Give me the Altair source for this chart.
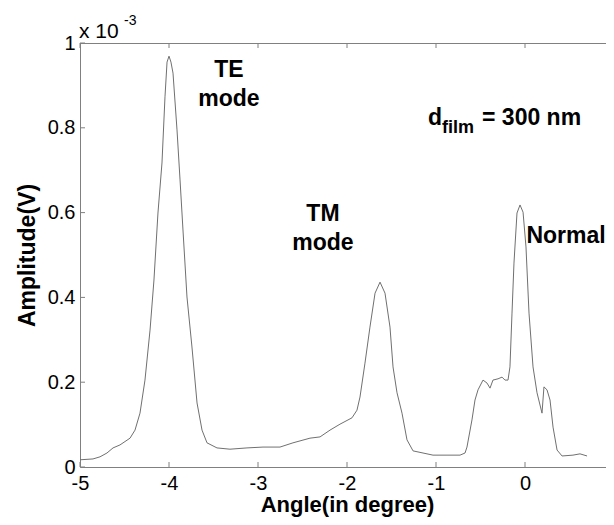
import altair as alt
import pandas as pd

# ---- data (amplitude in units of 1e-3 V) ----
angle = [-5.000, -4.854, -4.775, -4.697, -4.629, -4.551, -4.438, -4.382, -4.326, -4.270,
         -4.213, -4.169, -4.124, -4.079, -4.045, -4.022, -4.000, -3.978, -3.955, -3.910,
         -3.876, -3.843, -3.798, -3.742, -3.685, -3.629, -3.573, -3.461, -3.315, -3.124,
         -2.944, -2.753, -2.607, -2.416, -2.303, -2.191, -2.079, -1.944, -1.888, -1.854,
         -1.798, -1.742, -1.685, -1.629, -1.573, -1.517, -1.483, -1.438, -1.382, -1.326,
         -1.258, -1.146, -1.034, -0.876, -0.730, -0.674, -0.652, -0.596, -0.562, -0.528,
         -0.472, -0.427, -0.393, -0.360, -0.303, -0.258, -0.225, -0.191, -0.169, -0.146,
         -0.124, -0.090, -0.056, -0.022, 0.011, 0.045, 0.090, 0.135, 0.191, 0.213,
         0.247, 0.281, 0.315, 0.360, 0.416, 0.539, 0.618, 0.697]
amplitude = [0.017, 0.019, 0.024, 0.033, 0.045, 0.052, 0.068, 0.087, 0.127, 0.205,
             0.323, 0.441, 0.599, 0.717, 0.873, 0.955, 0.969, 0.955, 0.929, 0.795,
             0.677, 0.559, 0.401, 0.283, 0.151, 0.087, 0.057, 0.045, 0.042, 0.045,
             0.047, 0.047, 0.057, 0.068, 0.071, 0.087, 0.101, 0.116, 0.134, 0.165,
             0.245, 0.330, 0.410, 0.436, 0.410, 0.330, 0.236, 0.175, 0.127, 0.064,
             0.038, 0.033, 0.028, 0.028, 0.028, 0.033, 0.047, 0.111, 0.158, 0.182,
             0.205, 0.198, 0.186, 0.205, 0.208, 0.212, 0.205, 0.205, 0.236, 0.363,
             0.481, 0.599, 0.618, 0.601, 0.519, 0.363, 0.236, 0.175, 0.127, 0.189,
             0.182, 0.158, 0.094, 0.040, 0.026, 0.028, 0.031, 0.026]

x_ticks = [-5, -4, -3, -2, -1, 0]
y_ticks = [0, 0.2, 0.4, 0.6, 0.8, 1]

# annotations (in data coordinates)
big_labels = ["TE", "mode", "TM", "mode", "Normal"]
big_angle = [-3.326, -3.326, -2.270, -2.270, 0.461]
big_amp = [0.936, 0.868, 0.597, 0.528, 0.545]

# the reference's axis runs on to x = 1 just past the right edge of the picture;
# only the part up to the picture edge is shown here
X_MIN, X_VIS_MAX = -5, 0.91
W, H = 526, 424
FONT = "Liberation Sans"
GRAY = "#808080"

x_scale = alt.Scale(domain=[X_MIN, X_VIS_MAX], nice=False, zero=False)
y_scale = alt.Scale(domain=[0, 1], nice=False, zero=False)

x_axis = alt.Axis(values=x_ticks, title="Angle(in degree)", grid=False, domain=True,
                  domainColor=GRAY, domainWidth=1,
                  ticks=False, tickSize=0, labelPadding=6, labelFontSize=20,
                  labelFont=FONT, labelColor="black", labelExpr="datum.value + ''",
                  titleFont=FONT, titleFontSize=22, titleFontWeight="bold",
                  titleColor="black", titleBaseline="alphabetic", titleY=44,
                  titleX=267, labelFlush=False)
y_axis = alt.Axis(values=y_ticks, title="Amplitude(V)", grid=False, domain=True,
                  domainColor=GRAY, domainWidth=1,
                  ticks=False, tickSize=0, labelPadding=5, labelFontSize=20,
                  labelFont=FONT, labelColor="black", labelExpr="datum.value + ''",
                  titleFont=FONT, titleFontSize=23, titleFontWeight="bold",
                  titleColor="black", titlePadding=8, labelFlush=False)

x_enc = alt.X("angle:Q", scale=x_scale, axis=x_axis)
y_enc = alt.Y("amp:Q", scale=y_scale, axis=y_axis)

df = pd.DataFrame({"angle": angle, "amp": amplitude})

line = alt.Chart(df).mark_line(color="#707070", strokeWidth=1).encode(x=x_enc, y=y_enc)

xt = pd.DataFrame({"angle": x_ticks})
yt = pd.DataFrame({"amp": y_ticks})

top_frame = alt.Chart(pd.DataFrame({"k": [0]})).mark_rule(color=GRAY, strokeWidth=1).encode(
    x=alt.value(0), x2=alt.value(W), y=alt.value(0.5))
tick_bottom = alt.Chart(xt).mark_rule(color=GRAY).encode(x=x_enc, y=alt.value(H), y2=alt.value(H - 5))
tick_top = alt.Chart(xt).mark_rule(color=GRAY).encode(x=x_enc, y=alt.value(0), y2=alt.value(5))
tick_left = alt.Chart(yt).mark_rule(color=GRAY).encode(y=y_enc, x=alt.value(0), x2=alt.value(5))

ann_df = pd.DataFrame({"angle": big_angle, "amp": big_amp, "label": big_labels})
ann = alt.Chart(ann_df).mark_text(font=FONT, fontSize=23, fontWeight="bold", color="black",
                                  align="center", baseline="middle").encode(
    x=x_enc, y=y_enc, text="label:N")

d_df = pd.DataFrame({"angle": [-1.090], "amp": [0.807], "label": ["d"]})
d_txt = alt.Chart(d_df).mark_text(font=FONT, fontSize=23, fontWeight="bold", color="black",
                                  align="left", baseline="alphabetic").encode(
    x=x_enc, y=y_enc, text="label:N")
sub_df = pd.DataFrame({"angle": [-0.933], "amp": [0.788], "label": ["film"]})
sub_txt = alt.Chart(sub_df).mark_text(font=FONT, fontSize=18, fontWeight="bold", color="black",
                                      align="left", baseline="alphabetic").encode(
    x=x_enc, y=y_enc, text="label:N")
eq_df = pd.DataFrame({"angle": [-0.483], "amp": [0.807], "label": ["= 300 nm"]})
eq_txt = alt.Chart(eq_df).mark_text(font=FONT, fontSize=23, fontWeight="bold", color="black",
                                    align="left", baseline="alphabetic").encode(
    x=x_enc, y=y_enc, text="label:N")

exp_base = alt.Chart(pd.DataFrame({"t": ["x 10"]})).mark_text(
    font=FONT, fontSize=21, color="black", align="left", baseline="alphabetic").encode(
    x=alt.value(-1), y=alt.value(-5), text="t:N")
exp_sup = alt.Chart(pd.DataFrame({"t": ["-3"]})).mark_text(
    font=FONT, fontSize=14, color="black", align="left", baseline="alphabetic").encode(
    x=alt.value(44), y=alt.value(-18), text="t:N")

chart = alt.layer(
    line, top_frame, tick_bottom, tick_top, tick_left, ann, d_txt, sub_txt, eq_txt,
    exp_base, exp_sup
).properties(
    width=W, height=H,
    padding={"left": 72, "top": 35, "right": 0, "bottom": 50},
    autosize=alt.AutoSizeParams(type="none"),
).configure_view(stroke=None).configure(background="white")

chart.save("out.html", embed_options={"renderer": "svg", "actions": False})
